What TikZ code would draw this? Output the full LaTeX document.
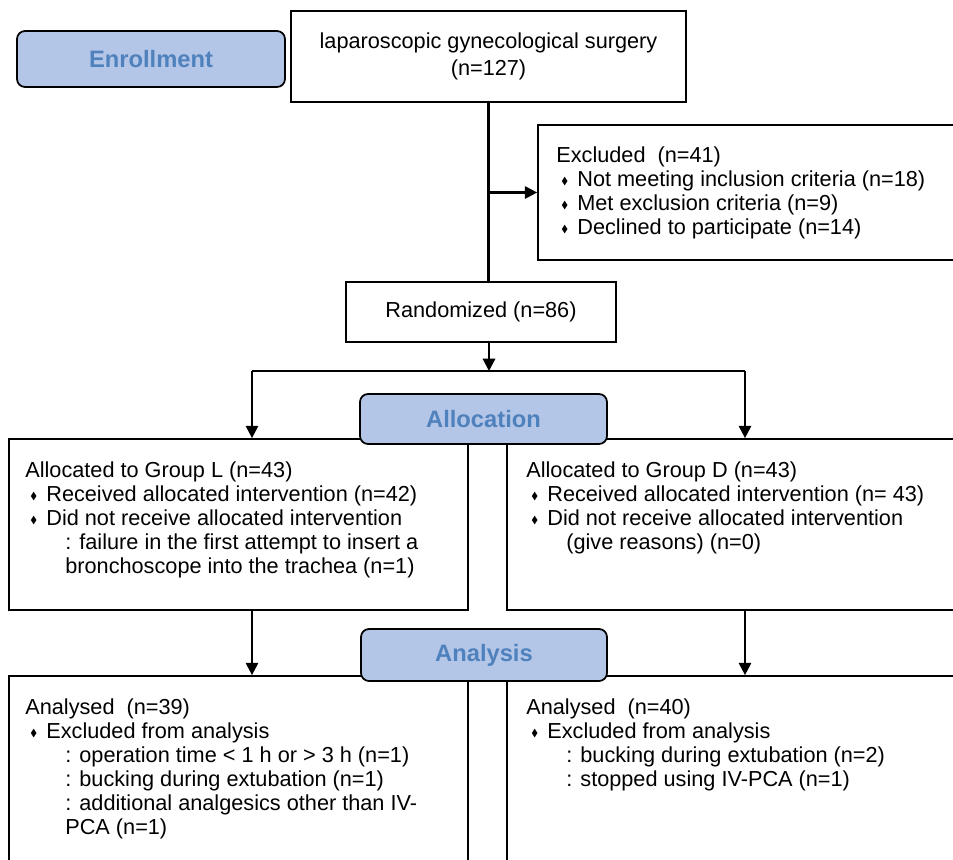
\documentclass[tikz,border=0pt]{standalone}
\usepackage{amssymb}
\usepackage{fontspec}
\setmainfont{Liberation Sans}
\usetikzlibrary{arrows.meta}

\definecolor{lblfill}{RGB}{180,198,231}
\definecolor{lbltext}{RGB}{79,129,189}

\newcommand{\dia}{\hspace*{0.1cm}\makebox[0.32cm][l]{\raisebox{0.8pt}{\scalebox{0.47}{$\blacklozenge$}}}}
\newcommand{\ind}{\hspace*{0.8cm}}

\tikzset{
  box/.style={draw, line width=1pt, inner sep=0pt, font=\fontsize{12.35}{13.7}\selectfont},
  lbl/.style={draw, line width=1pt, fill=lblfill, rounded corners=0.16cm, text=lbltext, font=\fontsize{13.5}{16}\selectfont\bfseries},
  list/.style={anchor=north west, align=left, inner sep=0pt, font=\fontsize{12.35}{13.66}\selectfont},
  ln/.style={line width=1.2pt},
  arr/.style={line width=1.2pt, -{Triangle[width=7pt,length=7pt]}}
}

\begin{document}
\begin{tikzpicture}[x=0.02cm, y=-0.02cm]
\useasboundingbox (0,0) rectangle (953,859);
\clip (0,0) rectangle (953,859);

\node[lbl, minimum width=5.36cm, minimum height=1.12cm] (enrol) at (151,59) {Enrollment};
\node[box, minimum width=7.9cm, minimum height=1.82cm, align=center, font=\fontsize{12.35}{15.4}\selectfont] (surg) at (488.5,56.5) {laparoscopic gynecological surgery\\(n=127)};

\node[box, minimum width=8.84cm, minimum height=2.7cm] (excl) at (759,192.5) {};
\node[list] (exclTxt) at (556,146) {Excluded~ (n=41)\\\dia Not meeting inclusion criteria (n=18)\\\dia Met exclusion criteria (n=9)\\\dia Declined to participate (n=14)};

\node[box, minimum width=5.4cm, minimum height=1.2cm] (rand) at (481,312) {Randomized (n=86)};

\node[box, minimum width=9.18cm, minimum height=3.42cm] (grpL) at (238.5,524.5) {};
\node[box, minimum width=9.46cm, minimum height=3.42cm] (grpR) at (743.5,524.5) {};
\node[list] (grpLTxt) at (25,461) {Allocated to Group L (n=43)\\\dia Received allocated intervention (n=42)\\\dia Did not receive allocated intervention\\\ind : failure in the first attempt to insert a\\\ind bronchoscope into the trachea (n=1)};
\node[list] (grpRTxt) at (526,461) {Allocated to Group D (n=43)\\\dia Received allocated intervention (n= 43)\\\dia Did not receive allocated intervention\\\ind (give reasons) (n=0)};

\node[box, minimum width=9.18cm, minimum height=4.08cm] (anaL) at (238.5,778) {};
\node[box, minimum width=9.46cm, minimum height=4.08cm] (anaR) at (743.5,778) {};
\node[list] (anaLTxt) at (25,698) {Analysed~ (n=39)\\\dia Excluded from analysis\\\ind : operation time < 1 h or > 3 h (n=1)\\\ind : bucking during extubation (n=1)\\\ind : additional analgesics other than IV-\\\ind PCA (n=1)};
\node[list] (anaRTxt) at (526,698) {Analysed~ (n=40)\\\dia Excluded from analysis\\\ind : bucking during extubation (n=2)\\\ind : stopped using IV-PCA (n=1)};

\node[lbl, minimum width=4.94cm, minimum height=1cm] (alloc) at (483.5,419) {Allocation};
\node[lbl, minimum width=4.92cm, minimum height=1.04cm] (anal) at (484,655) {Analysis};

% connectors
\coordinate (split) at (489,371);
\coordinate (jL) at (252,371);
\coordinate (jR) at (745,371);
\draw[ln] (surg.south) -- (surg.south |- rand.north);
\draw[arr] (surg.south |- excl.west) -- (excl.west);
\draw[arr] (split |- rand.south) -- (split);
\draw[ln] (jL) -- (jR);
\draw[arr] (jL) -- (jL |- grpL.north);
\draw[arr] (jR) -- (jR |- grpR.north);
\draw[arr] (jL |- grpL.south) -- (jL |- anaL.north);
\draw[arr] (jR |- grpR.south) -- (jR |- anaR.north);
\end{tikzpicture}
\end{document}
